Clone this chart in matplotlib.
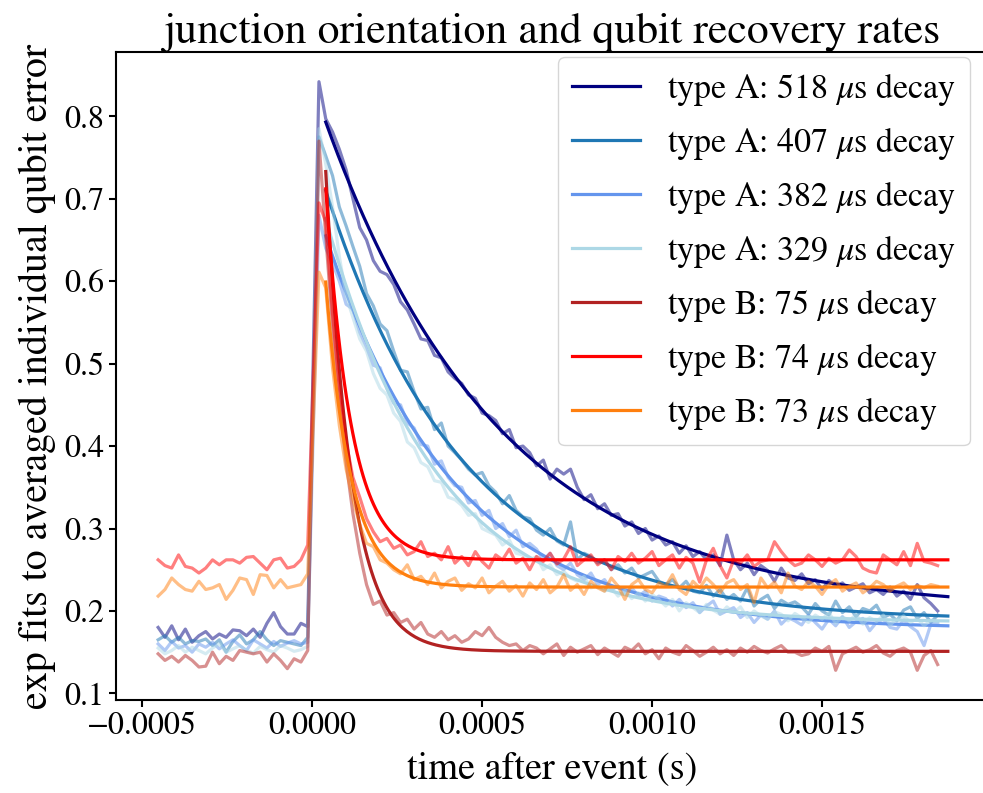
import numpy as np
import matplotlib
matplotlib.use("Agg")
import matplotlib.pyplot as plt

plt.rcParams['font.family'] = ['STIXGeneral', 'Liberation Serif', 'DejaVu Serif']
plt.rcParams['mathtext.fontset'] = 'stix'
plt.rcParams['font.size'] = 23
plt.rcParams['axes.linewidth'] = 1.5
plt.rcParams['xtick.major.width'] = 1.5
plt.rcParams['ytick.major.width'] = 1.5
plt.rcParams['xtick.major.size'] = 5
plt.rcParams['ytick.major.size'] = 5

# sample times: 23 bins before the event, 92 bins after it
dt = 2e-5
t_pre = -0.000453 + dt * np.arange(23)
t_post = dt * np.arange(1, 93)
t_all = np.concatenate([t_pre, t_post])

# fitted decay constants (s), offsets and amplitudes at the fit start
fit_start = 4e-5
fit_end = 0.00187
taus = [518e-6, 407e-6, 382e-6, 329e-6, 75e-6, 74e-6, 73e-6]
offsets = [0.200, 0.188, 0.178, 0.186, 0.151, 0.262, 0.229]
amps = [0.593, 0.522, 0.477, 0.490, 0.582, 0.450, 0.370]
kinds = ["A", "A", "A", "A", "B", "B", "B"]
colors = ["navy", "tab:blue", "cornflowerblue", "lightblue", "firebrick", "red", "tab:orange"]

# averaged qubit error, before the event
pre_a518 = [0.180, 0.168, 0.182, 0.165, 0.178, 0.162, 0.170, 0.175, 0.166, 0.172, 0.168, 0.177,
            0.176, 0.170, 0.178, 0.168, 0.185, 0.198, 0.181, 0.172, 0.172, 0.185, 0.181]
pre_a407 = [0.165, 0.170, 0.162, 0.168, 0.160, 0.164, 0.163, 0.166, 0.158, 0.165, 0.150, 0.163,
            0.171, 0.160, 0.165, 0.175, 0.165, 0.158, 0.164, 0.162, 0.160, 0.158, 0.168]
pre_a382 = [0.160, 0.152, 0.163, 0.155, 0.158, 0.150, 0.160, 0.156, 0.162, 0.154, 0.160, 0.165,
            0.158, 0.152, 0.165, 0.160, 0.155, 0.163, 0.157, 0.161, 0.164, 0.160, 0.162]
pre_a329 = [0.155, 0.148, 0.152, 0.158, 0.150, 0.156, 0.152, 0.148, 0.155, 0.160, 0.150, 0.154,
            0.158, 0.152, 0.149, 0.157, 0.153, 0.150, 0.158, 0.155, 0.151, 0.153, 0.157]
pre_b75 = [0.148, 0.140, 0.145, 0.138, 0.146, 0.140, 0.132, 0.133, 0.150, 0.136, 0.145, 0.140,
           0.152, 0.150, 0.148, 0.150, 0.138, 0.148, 0.140, 0.130, 0.142, 0.138, 0.152]
pre_b74 = [0.262, 0.255, 0.252, 0.268, 0.254, 0.252, 0.246, 0.252, 0.262, 0.256, 0.262, 0.262,
           0.258, 0.265, 0.266, 0.258, 0.250, 0.262, 0.264, 0.252, 0.254, 0.262, 0.280]
pre_b73 = [0.218, 0.226, 0.240, 0.232, 0.226, 0.224, 0.236, 0.226, 0.228, 0.232, 0.214, 0.225,
           0.240, 0.238, 0.220, 0.244, 0.243, 0.228, 0.238, 0.228, 0.230, 0.232, 0.245]

# averaged qubit error, after the event
post_a518 = [0.842,
             0.797, 0.781, 0.760, 0.735, 0.700, 0.665, 0.650, 0.625, 0.612, 0.608,
             0.596, 0.575, 0.565, 0.548, 0.530, 0.528, 0.510, 0.507, 0.490, 0.482,
             0.476, 0.462, 0.458, 0.440, 0.437, 0.431, 0.415, 0.420, 0.398, 0.400,
             0.392, 0.376, 0.383, 0.360, 0.372, 0.366, 0.372, 0.350, 0.335, 0.341,
             0.324, 0.330, 0.316, 0.318, 0.303, 0.308, 0.294, 0.300, 0.286, 0.291,
             0.280, 0.284, 0.270, 0.279, 0.266, 0.272, 0.262, 0.268, 0.255, 0.292,
             0.262, 0.250, 0.258, 0.244, 0.255, 0.249, 0.236, 0.252, 0.240, 0.237,
             0.245, 0.233, 0.238, 0.226, 0.237, 0.230, 0.234, 0.225, 0.229, 0.233,
             0.222, 0.226, 0.220, 0.229, 0.218, 0.224, 0.214, 0.232, 0.216, 0.209,
             0.200]
post_a407 = [0.775,
             0.752, 0.728, 0.690, 0.667, 0.642, 0.618, 0.585, 0.570, 0.548, 0.540,
             0.515, 0.492, 0.490, 0.466, 0.445, 0.447, 0.420, 0.428, 0.400, 0.392,
             0.383, 0.372, 0.365, 0.368, 0.352, 0.344, 0.330, 0.340, 0.322, 0.314,
             0.312, 0.298, 0.292, 0.300, 0.285, 0.280, 0.308, 0.262, 0.270, 0.266,
             0.258, 0.262, 0.250, 0.256, 0.246, 0.252, 0.240, 0.244, 0.248, 0.236,
             0.232, 0.238, 0.228, 0.236, 0.224, 0.222, 0.231, 0.218, 0.226, 0.214,
             0.220, 0.212, 0.228, 0.206, 0.214, 0.219, 0.203, 0.213, 0.208, 0.211,
             0.205, 0.196, 0.209, 0.200, 0.195, 0.212, 0.198, 0.205, 0.193, 0.203,
             0.200, 0.207, 0.192, 0.196, 0.188, 0.201, 0.205, 0.191, 0.198, 0.186,
             0.195]
post_a382 = [0.680,
             0.640, 0.622, 0.600, 0.572, 0.566, 0.538, 0.520, 0.498, 0.495, 0.470,
             0.452, 0.450, 0.428, 0.422, 0.402, 0.400, 0.378, 0.382, 0.362, 0.352,
             0.350, 0.331, 0.334, 0.316, 0.322, 0.300, 0.306, 0.290, 0.298, 0.278,
             0.282, 0.275, 0.262, 0.270, 0.255, 0.250, 0.258, 0.244, 0.238, 0.246,
             0.232, 0.238, 0.226, 0.230, 0.222, 0.228, 0.218, 0.224, 0.212, 0.218,
             0.215, 0.206, 0.214, 0.204, 0.210, 0.198, 0.206, 0.212, 0.196, 0.200,
             0.204, 0.192, 0.198, 0.186, 0.195, 0.190, 0.200, 0.184, 0.192, 0.188,
             0.183, 0.195, 0.186, 0.178, 0.190, 0.182, 0.193, 0.180, 0.187, 0.191,
             0.176, 0.186, 0.190, 0.180, 0.178, 0.189, 0.181, 0.175, 0.158, 0.184,
             0.186]
post_a329 = [0.785,
             0.742, 0.690, 0.630, 0.582, 0.556, 0.530, 0.515, 0.488, 0.470, 0.462,
             0.440, 0.430, 0.405, 0.398, 0.380, 0.375, 0.358, 0.356, 0.338, 0.335,
             0.328, 0.316, 0.318, 0.300, 0.296, 0.292, 0.280, 0.286, 0.270, 0.268,
             0.262, 0.266, 0.250, 0.256, 0.244, 0.248, 0.240, 0.236, 0.242, 0.228,
             0.230, 0.224, 0.228, 0.218, 0.225, 0.215, 0.222, 0.212, 0.220, 0.214,
             0.206, 0.214, 0.200, 0.210, 0.204, 0.198, 0.208, 0.201, 0.196, 0.205,
             0.198, 0.205, 0.192, 0.200, 0.194, 0.190, 0.199, 0.196, 0.188, 0.197,
             0.192, 0.186, 0.195, 0.190, 0.198, 0.185, 0.193, 0.188, 0.196, 0.184,
             0.192, 0.187, 0.195, 0.183, 0.190, 0.194, 0.186, 0.191, 0.182, 0.189,
             0.187]
post_b75 = [0.770,
            0.655, 0.545, 0.455, 0.380, 0.318, 0.270, 0.232, 0.208, 0.212, 0.195,
            0.198, 0.186, 0.190, 0.178, 0.186, 0.172, 0.168, 0.175, 0.165, 0.170,
            0.162, 0.166, 0.175, 0.170, 0.180, 0.168, 0.162, 0.158, 0.160, 0.152,
            0.158, 0.155, 0.148, 0.154, 0.160, 0.146, 0.156, 0.150, 0.154, 0.158,
            0.147, 0.155, 0.150, 0.145, 0.156, 0.152, 0.160, 0.148, 0.153, 0.142,
            0.155, 0.150, 0.147, 0.158, 0.152, 0.145, 0.150, 0.156, 0.148, 0.153,
            0.146, 0.155, 0.150, 0.157, 0.152, 0.149, 0.154, 0.158, 0.150, 0.150,
            0.146, 0.148, 0.155, 0.151, 0.157, 0.128, 0.148, 0.152, 0.156, 0.150,
            0.153, 0.158, 0.149, 0.145, 0.152, 0.155, 0.150, 0.128, 0.146, 0.152,
            0.135]
post_b74 = [0.695,
            0.672, 0.560, 0.470, 0.405, 0.362, 0.338, 0.312, 0.296, 0.284, 0.288,
            0.276, 0.280, 0.268, 0.272, 0.284, 0.266, 0.270, 0.262, 0.278, 0.258,
            0.266, 0.255, 0.272, 0.260, 0.252, 0.268, 0.262, 0.275, 0.258, 0.264,
            0.250, 0.266, 0.260, 0.270, 0.257, 0.263, 0.278, 0.255, 0.262, 0.268,
            0.256, 0.262, 0.250, 0.266, 0.260, 0.270, 0.258, 0.264, 0.272, 0.255,
            0.262, 0.268, 0.252, 0.265, 0.258, 0.235, 0.262, 0.276, 0.255, 0.240,
            0.262, 0.258, 0.268, 0.254, 0.260, 0.262, 0.284, 0.272, 0.262, 0.255,
            0.258, 0.268, 0.262, 0.254, 0.264, 0.258, 0.262, 0.274, 0.266, 0.252,
            0.248, 0.246, 0.268, 0.262, 0.256, 0.272, 0.255, 0.282, 0.260, 0.258,
            0.255]
post_b73 = [0.611,
            0.592, 0.495, 0.425, 0.372, 0.335, 0.305, 0.282, 0.278, 0.262, 0.258,
            0.250, 0.245, 0.256, 0.238, 0.242, 0.232, 0.246, 0.228, 0.236, 0.240,
            0.225, 0.233, 0.228, 0.240, 0.222, 0.230, 0.236, 0.224, 0.231, 0.218,
            0.234, 0.226, 0.238, 0.222, 0.229, 0.244, 0.225, 0.232, 0.220, 0.236,
            0.228, 0.224, 0.240, 0.230, 0.214, 0.232, 0.238, 0.226, 0.222, 0.234,
            0.230, 0.244, 0.226, 0.220, 0.236, 0.228, 0.240, 0.232, 0.222, 0.234,
            0.238, 0.226, 0.232, 0.210, 0.240, 0.228, 0.235, 0.222, 0.246, 0.230,
            0.226, 0.236, 0.230, 0.220, 0.232, 0.238, 0.224, 0.230, 0.234, 0.222,
            0.228, 0.236, 0.232, 0.224, 0.230, 0.234, 0.226, 0.231, 0.228, 0.232,
            0.230]

pre_all = [pre_a518, pre_a407, pre_a382, pre_a329, pre_b75, pre_b74, pre_b73]
post_all = [post_a518, post_a407, post_a382, post_a329, post_b75, post_b74, post_b73]

fig = plt.figure(figsize=(9.83, 7.93), dpi=100)
ax = fig.add_axes([0.118, 0.1173, 0.8867, 0.8171])

t_fit = np.linspace(fit_start, fit_end, 300)
for i in range(len(taus)):
    err = np.concatenate([pre_all[i], post_all[i]])
    ax.plot(t_all, err, color=colors[i], alpha=0.5, lw=2.3)
    fit = offsets[i] + amps[i] * np.exp(-(t_fit - fit_start) / taus[i])
    label = "type %s: %d $\\mu$s decay" % (kinds[i], round(taus[i] * 1e6))
    ax.plot(t_fit, fit, color=colors[i], lw=2.3, label=label)

ax.set_xlim(-0.000577, 0.001987)
ax.set_ylim(0.092, 0.878)
ax.set_xticks([-0.0005, 0.0, 0.0005, 0.001, 0.0015])
ax.tick_params(labelsize=23)
ax.set_xlabel("time after event (s)", fontsize=27.5, labelpad=7)
ax.set_ylabel("exp fits to averaged individual qubit error", fontsize=28.7, labelpad=6)
ax.set_title("junction orientation and qubit recovery rates", fontsize=31.5, pad=4)
ax.legend(loc="upper right", bbox_to_anchor=(0.9798, 0.9923), borderaxespad=0,
          fontsize=24.5, labelspacing=0.5)

fig.savefig("out.png", dpi=100)
